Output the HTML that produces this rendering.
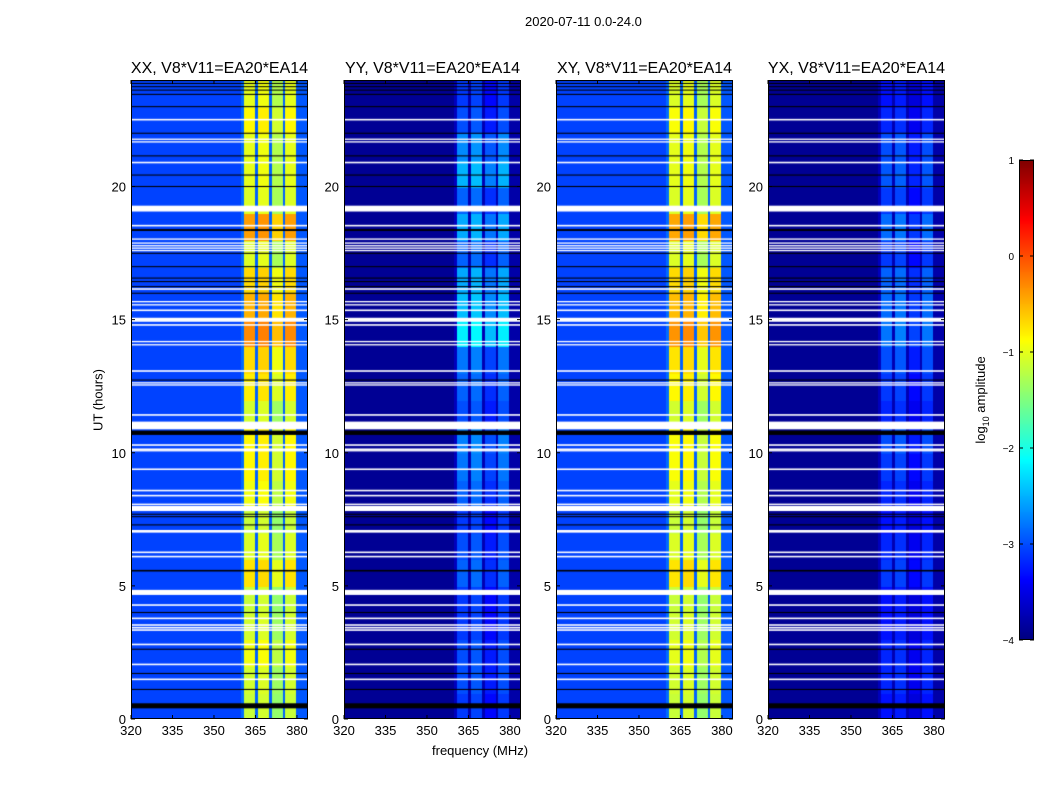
<!DOCTYPE html>
<html><head><meta charset="utf-8">
<style>
body{margin:0;background:#fff;font-family:"Liberation Sans",sans-serif;}
#wrap{position:relative;width:1050px;height:800px;background:#fff;overflow:hidden;}
.t{position:absolute;white-space:nowrap;color:#000;}
canvas{position:absolute;}
svg{position:absolute;left:0;top:0;}
</style></head><body>
<div id="wrap">
<div class="t" style="left:525px;top:14px;font-size:13px;">2020-07-11 0.0-24.0</div>
<div class="t" style="left:432px;top:743px;font-size:13px;">frequency (MHz)</div>
<div class="t" style="left:98px;top:400px;font-size:13px;transform:translate(-50%,-50%) rotate(-90deg);">UT (hours)</div>
<div class="t" style="left:982px;top:400px;font-size:13px;transform:translate(-50%,-50%) rotate(-90deg);">log<sub style="font-size:9px">10</sub> amplitude</div>
<svg id="ov" width="1050" height="800"></svg>
</div>
<script>
// ---- data ----
const titles = ["XX, V8*V11=EA20*EA14","YY, V8*V11=EA20*EA14","XY, V8*V11=EA20*EA14","YX, V8*V11=EA20*EA14"];
const xTicks = [320,335,350,365,380];
const yTicks = [0,5,10,15,20];
const cbTicks = [1,0,-1,-2,-3,-4];
const bgLevel = [-3.05,-3.9,-3.05,-3.9];
const bandXX = [-1.15,-1.1,-0.95,-1.1,-1.15,-0.75,-1.05,-1.15,-0.95,-0.85,-0.85,-1.1,-0.8,-0.7,-0.3,-0.5,-0.7,-1.05,-0.4,-1.05,-1.0,-1.0,-0.85,-1.0];
const bandYY = [-3.1,-3.0,-3.0,-3.1,-3.1,-2.9,-3.0,-3.1,-2.9,-2.8,-2.75,-3.0,-2.9,-2.8,-2.2,-2.45,-2.55,-2.9,-2.55,-2.9,-2.5,-2.7,-3.0,-3.1];
const bandXY = [-1.15,-1.1,-1.0,-1.1,-1.15,-0.75,-1.05,-1.15,-1.0,-0.9,-0.9,-1.1,-0.85,-0.75,-0.35,-0.55,-0.7,-1.05,-0.45,-1.05,-1.0,-1.0,-0.9,-1.05];
const bandYX = [-3.3,-3.2,-3.2,-3.3,-3.3,-3.1,-3.2,-3.3,-3.2,-3.1,-3.0,-3.2,-3.1,-3.0,-2.8,-2.85,-2.9,-3.1,-2.85,-3.1,-2.95,-3.0,-3.2,-3.3];
const subOffset = [0,0.05,-0.25,0];
const whiteFlags = [[22.48,22.54],[21.75,21.8],[21.65,21.7],[20.87,20.93],[19.06,19.28],[18.5,18.56],[18.0,18.05],[17.85,17.9],[17.75,17.8],[17.66,17.71],[17.57,17.62],[16.12,16.18],[15.65,15.7],[15.53,15.58],[15.32,15.38],[14.92,15.07],[14.77,14.83],[14.15,14.2],[14.03,14.08],[13.04,13.1],[12.6,12.65],[12.52,12.57],[11.39,11.45],[10.88,11.17],[10.26,10.32],[10.1,10.16],[10.05,10.1],[9.35,9.41],[8.55,8.61],[8.36,8.42],[8.03,8.09],[7.81,8.0],[7.0,7.1],[6.23,6.29],[6.07,6.13],[4.66,4.85],[4.25,4.31],[3.75,3.81],[3.5,3.56],[3.4,3.46],[3.31,3.37],[2.77,2.83],[2.02,2.08],[1.46,1.52]];
const blackFlags = [[23.98,24],[23.85,23.89],[23.73,23.77],[23.6,23.64],[23.44,23.48],[22.98,23.02],[21.98,22.02],[21.13,21.17],[20.41,20.45],[19.98,20.02],[18.33,18.4],[17.47,17.51],[16.97,17.01],[16.54,16.58],[16.41,16.45],[16.22,16.26],[15.97,16.01],[12.71,12.75],[10.67,10.83],[7.67,7.71],[7.58,7.62],[7.27,7.31],[5.54,5.6],[3.98,4.02],[2.6,2.64],[1.69,1.73],[1.09,1.13],[0.4,0.59]];
// ---- layout ----
const lefts=[131,344,556,768], TOP=80, W=177, H=639, F0=320, F1=384, T1=24;
function xs(i,f){return lefts[i]+(f-F0)/(F1-F0)*W;}
function ys(h){return TOP+H-(h/T1)*H;}
function jet(v){let t=(v+4)/5;t=Math.max(0,Math.min(1,t));
 const c=x=>Math.round(255*Math.max(0,Math.min(1,x)));
 return `rgb(${c(1.5-Math.abs(4*t-3))},${c(1.5-Math.abs(4*t-2))},${c(1.5-Math.abs(4*t-1))})`;}
const bands=[bandXX,bandYY,bandXY,bandYX];
function value(p,f,h){
 const bg=bgLevel[p]; const hb=Math.min(23,Math.floor(h));
 if(f<360||f>=380){return f>=380?bg+0.1:bg;}
 if(f<361) return bg+0.2;
 const gaps=[365,370,375];
 for(const g of gaps){ if(f>=g&&f<g+1) return bg+0.15; }
 const sb=Math.min(3,Math.floor((f-360)/5));
 return bands[p][hb]+subOffset[sb];
}
const wrap=document.getElementById('wrap');
const NS='http://www.w3.org/2000/svg';
const ov=document.getElementById('ov');
function sv(tag,attrs,parent){const e=document.createElementNS(NS,tag);for(const k in attrs)e.setAttribute(k,attrs[k]);(parent||ov).appendChild(e);return e;}
for(let p=0;p<4;p++){
 const cv=document.createElement('canvas');
 cv.width=W;cv.height=H;cv.style.left=lefts[p]+'px';cv.style.top=TOP+'px';
 
 
 wrap.insertBefore(cv,ov);
 const ctx=cv.getContext('2d');
 const dh=0.05;
 for(let h=0;h<T1;h+=dh){
  for(let f=F0;f<F1;f+=1){
   ctx.fillStyle=jet(value(p,f,h+dh/2));
   const x0=xs(p,f)-lefts[p], x1=xs(p,f+1)-lefts[p];
   const y0=ys(h+dh)-TOP, y1=ys(h)-TOP;
   ctx.fillRect(Math.floor(x0),Math.floor(y0),Math.ceil(x1-x0)+1,Math.ceil(y1-y0)+1);
  }
 }
 ctx.fillStyle='#000';
 for(const b of blackFlags){const y0=ys(b[1])-TOP,y1=ys(b[0])-TOP;ctx.fillRect(0,y0,W,Math.max(1,y1-y0));}
 ctx.fillStyle='#fff';
 for(const b of whiteFlags){const y0=ys(b[1])-TOP,y1=ys(b[0])-TOP;ctx.fillRect(0,y0,W,Math.max(1.2,y1-y0));}
 const fr=sv('rect',{x:lefts[p]+0.5,y:TOP+0.5,width:W-1,height:H-1,fill:'none',stroke:'#000','stroke-width':1});
 
 
 const tt=sv('text',{x:lefts[p]+W/2,y:TOP-7,'text-anchor':'middle','font-size':16,'font-family':'Liberation Sans, sans-serif'});
 tt.textContent=titles[p];
 
 
 for(const v of xTicks){const x=xs(p,v);
  sv('line',{x1:x,x2:x,y1:TOP+H,y2:TOP+H-4,stroke:'#000'});
  sv('line',{x1:x,x2:x,y1:TOP,y2:TOP+4,stroke:'#000'});
  const tl=sv('text',{x:x,y:TOP+H+16,'text-anchor':'middle','font-size':13,'font-family':'Liberation Sans, sans-serif'});
  tl.textContent=v;
  
  }
 for(const v of yTicks){const y=ys(v);
  sv('line',{x1:lefts[p],x2:lefts[p]+4,y1:y,y2:y,stroke:'#000'});
  sv('line',{x1:lefts[p]+W,x2:lefts[p]+W-4,y1:y,y2:y,stroke:'#000'});
  const tl=sv('text',{x:lefts[p]-5,y:y+5,'text-anchor':'end','font-size':13,'font-family':'Liberation Sans, sans-serif'});
  tl.textContent=v;
  
  }
}
// colorbar
const CBX=1019,CBY=160,CBW=15,CBH=480;
function cy(v){return CBY+CBH-(v+4)/5*CBH;}
const cb=document.createElement('canvas');cb.width=CBW;cb.height=CBH;cb.style.left=CBX+'px';cb.style.top=CBY+'px';


wrap.insertBefore(cb,ov);
const cctx=cb.getContext('2d');
for(let i=0;i<CBH;i++){cctx.fillStyle=jet(-4+5*(CBH-i-0.5)/CBH);cctx.fillRect(0,i,CBW,1);}
sv('rect',{x:CBX+0.5,y:CBY+0.5,width:CBW-1,height:CBH-1,fill:'none',stroke:'#000'});
for(const v of cbTicks){const y=cy(v);
 sv('line',{x1:CBX,x2:CBX+4,y1:y,y2:y,stroke:'#000'});
 sv('line',{x1:CBX+CBW,x2:CBX+CBW-4,y1:y,y2:y,stroke:'#000'});
 const tl=sv('text',{x:CBX-5,y:y+4,'text-anchor':'end','font-size':10,'font-family':'Liberation Sans, sans-serif'});
 tl.textContent=v<0?'\u2212'+(-v):v;
 
 }
</script>
</body></html>
